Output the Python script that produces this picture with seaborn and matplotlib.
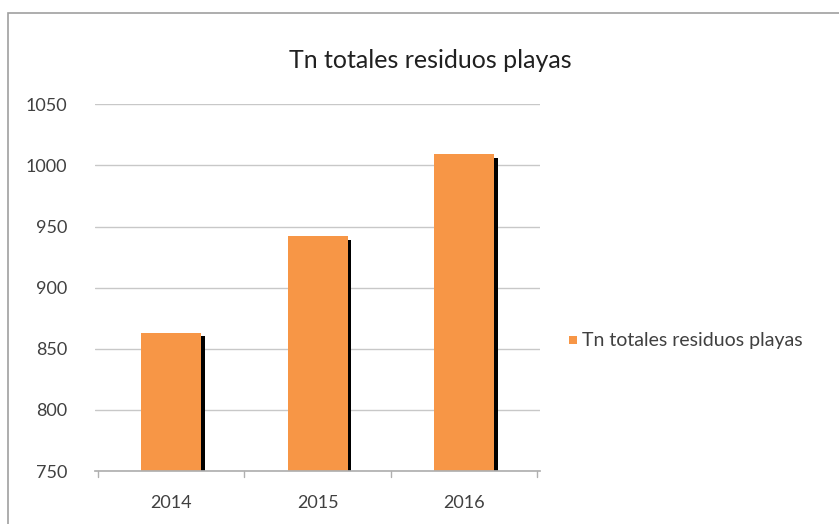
import matplotlib
matplotlib.use("Agg")
import matplotlib.pyplot as plt
import matplotlib.patheffects as pe
from matplotlib.patches import Rectangle
import seaborn as sns
import pandas as pd

years = ["2014", "2015", "2016"]
values = [863, 942, 1009]
series_name = "Tn totales residuos playas"
yticks = [750, 800, 850, 900, 950, 1000, 1050]

sns.set_theme(style="white")
plt.rcParams['font.family'] = ['Lato', 'DejaVu Sans']

df = pd.DataFrame({"year": years, "value": values, "serie": series_name})

fig = plt.figure(figsize=(8.39, 5.24), dpi=100)
ax = fig.add_axes([0.113, 0.101, 0.531, 0.700])

sns.barplot(data=df, x="year", y="value", hue="serie", palette=["#F79646"],
            saturation=1, width=0.41, ax=ax, legend=False)
for p in ax.patches:
    p.set_path_effects([pe.SimplePatchShadow(offset=(2.5, -2.5), shadow_rgbFace="black", alpha=1.0),
                        pe.Normal()])
    p.set_edgecolor("none")

ax.set_ylim(750, 1050)
ax.set_yticks(yticks)
ax.set_yticklabels([str(v) for v in yticks], fontsize=13, color="#404040")
ax.tick_params(axis="x", labelsize=13, labelcolor="#404040", pad=17)
ax.set_xlim(-0.52, 2.52)
ax.set_xlabel("")
ax.set_ylabel("")
ax.yaxis.grid(True, color="#c8c8c8", linewidth=1)
ax.set_axisbelow(True)
for s in ["top", "right", "left"]:
    ax.spines[s].set_visible(False)
ax.spines["bottom"].set_color("#b0b0b0")
ax.tick_params(axis="y", length=0, pad=20)
ax.tick_params(axis="x", length=0)
# category boundary tick marks
for xb in [-0.5, 0.5, 1.5, 2.5]:
    ax.plot([xb, xb], [0, -0.015], transform=ax.get_xaxis_transform(),
            color="#b0b0b0", lw=1, clip_on=False)

fig.text(0.513, 0.885, series_name, ha="center", va="center", fontsize=18, color="#202020")

# legend
fig.patches.append(Rectangle((0.678, 0.343), 0.010, 0.016, transform=fig.transFigure,
                             facecolor="#F79646", edgecolor="none"))
fig.text(0.694, 0.351, series_name, ha="left", va="center", fontsize=14, color="#404040")

# chart frame
fig.patches.append(Rectangle((0.009, -0.01), 1.0, 0.985, transform=fig.transFigure,
                             facecolor="none", edgecolor="#a0a0a0", lw=1.2))

fig.savefig("out.png", dpi=100)
